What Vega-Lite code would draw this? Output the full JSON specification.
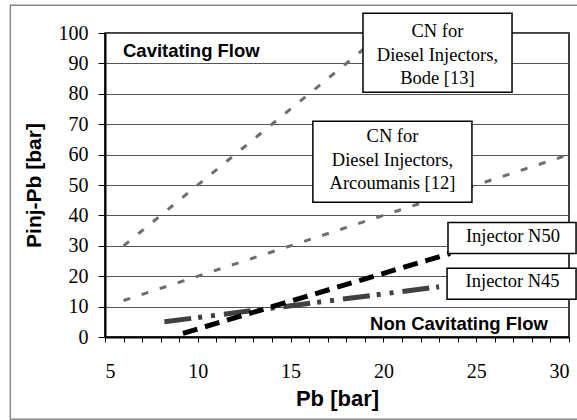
{
  "$schema": "https://vega.github.io/schema/vega-lite/v6.json",
  "width": 464,
  "height": 304,
  "autosize": "none",
  "padding": {"left": 105, "top": 33, "right": 8, "bottom": 83},
  "background": "white",
  "config": {
    "view": {"stroke": "black", "strokeWidth": 1.5},
    "axis": {"labelColor": "black", "titleColor": "black", "domainColor": "black", "tickColor": "black"}
  },
  "datasets": {
    "lines": [
      {"series": "Bode", "x": 6, "y": 30},
      {"series": "Bode", "x": 19.6, "y": 98},
      {"series": "Arcoumanis", "x": 6, "y": 12},
      {"series": "Arcoumanis", "x": 29.7, "y": 59.4},
      {"series": "N45", "x": 8.2, "y": 5},
      {"series": "N45", "x": 23, "y": 16.5},
      {"series": "N50", "x": 9.2, "y": 1.2},
      {"series": "N50", "x": 23.6, "y": 27.5}
    ],
    "boxes": [
      {"name": "Bode", "x": 18.9, "x2": 26.93, "y": 80.5, "y2": 106.5},
      {"name": "Arcoumanis", "x": 16.2, "x2": 24.77, "y": 44.3, "y2": 71},
      {"name": "N50", "x": 23.48, "x2": 30.38, "y": 27.5, "y2": 37.7},
      {"name": "N45", "x": 23.43, "x2": 30.38, "y": 12.4, "y2": 22.6}
    ],
    "boxtext": [
      {"text": "CN for", "x": 22.91, "y": 98.6},
      {"text": "Diesel Injectors,", "x": 22.91, "y": 90.9},
      {"text": "Bode [13]", "x": 22.91, "y": 83.1},
      {"text": "CN for", "x": 20.49, "y": 64.1},
      {"text": "Diesel Injectors,", "x": 20.49, "y": 56.4},
      {"text": "Arcoumanis [12]", "x": 20.49, "y": 48.7},
      {"text": "Injector N50", "x": 26.98, "y": 31.15},
      {"text": "Injector N45", "x": 26.96, "y": 16.35}
    ],
    "regions": [
      {"text": "Cavitating Flow", "x": 5.97, "y": 92.0},
      {"text": "Non Cavitating Flow", "x": 19.28, "y": 2.43}
    ],
    "frame": [
      {"x": -0.1, "x2": 32, "y": -27.07, "y2": 109.1}
    ]
  },
  "encoding": {
    "x": {"field": "x", "type": "quantitative", "scale": {"domain": [5, 30], "nice": false, "zero": false},
      "axis": {"values": [5,6,7,8,9,10,11,12,13,14,15,16,17,18,19,20,21,22,23,24,25,26,27,28,29,30],
        "labelExpr": "datum.value % 5 === 0 ? datum.label : ''", "labelOverlap": false,
        "grid": false, "tickSize": 5, "tickWidth": 1, "domainWidth": 2,
        "labelFont": "Liberation Serif", "labelFontSize": 20, "labelPadding": 19,
        "title": "Pb [bar]", "titleFont": "Liberation Sans", "titleFontWeight": "bold", "titleFontSize": 22,
        "titleBaseline": "alphabetic", "titleY": 68}},
    "y": {"field": "y", "type": "quantitative", "scale": {"domain": [0, 100], "nice": false},
      "axis": {"values": [0,10,20,30,40,50,60,70,80,90,100], "labelOverlap": false,
        "grid": true, "gridColor": "#555555", "gridWidth": 1,
        "tickSize": 7, "tickWidth": 1, "domainWidth": 2,
        "labelFont": "Liberation Serif", "labelFontSize": 20, "labelPadding": 10,
        "title": "Pinj-Pb [bar]", "titleFont": "Liberation Sans", "titleFontWeight": "bold", "titleFontSize": 21,
        "titleBaseline": "alphabetic", "titleX": -65}}
  },
  "layer": [
    {
      "data": {"name": "frame"},
      "mark": {"type": "rect", "fill": null, "stroke": "#888888", "strokeWidth": 1.5},
      "encoding": {"x2": {"field": "x2"}, "y2": {"field": "y2"}}
    },
    {
      "data": {"name": "lines"},
      "transform": [{"filter": "datum.series === 'Bode'"}],
      "mark": {"type": "line", "color": "#6e6e6e", "strokeWidth": 3, "strokeDash": [7, 12]},
      "encoding": {}
    },
    {
      "data": {"name": "lines"},
      "transform": [{"filter": "datum.series === 'Arcoumanis'"}],
      "mark": {"type": "line", "color": "#6e6e6e", "strokeWidth": 3, "strokeDash": [7, 12]},
      "encoding": {}
    },
    {
      "data": {"name": "lines"},
      "transform": [{"filter": "datum.series === 'N45'"}],
      "mark": {"type": "line", "color": "#404040", "strokeWidth": 5, "strokeDash": [27, 7, 4, 9, 4, 9]},
      "encoding": {}
    },
    {
      "data": {"name": "lines"},
      "transform": [{"filter": "datum.series === 'N50'"}],
      "mark": {"type": "line", "color": "black", "strokeWidth": 5, "strokeDash": [15, 8]},
      "encoding": {}
    },
    {
      "data": {"name": "boxes"},
      "mark": {"type": "rect", "fill": "white", "stroke": "black", "strokeWidth": 1.5},
      "encoding": {"x2": {"field": "x2"}, "y2": {"field": "y2"}}
    },
    {
      "data": {"name": "boxtext"},
      "mark": {"type": "text", "font": "Liberation Serif", "fontSize": 18.5, "align": "center", "baseline": "alphabetic", "color": "black"},
      "encoding": {"text": {"field": "text"}}
    },
    {
      "data": {"name": "regions"},
      "mark": {"type": "text", "font": "Liberation Sans", "fontWeight": "bold", "fontSize": 18.5, "align": "left", "baseline": "alphabetic", "color": "black"},
      "encoding": {"text": {"field": "text"}}
    }
  ]
}
